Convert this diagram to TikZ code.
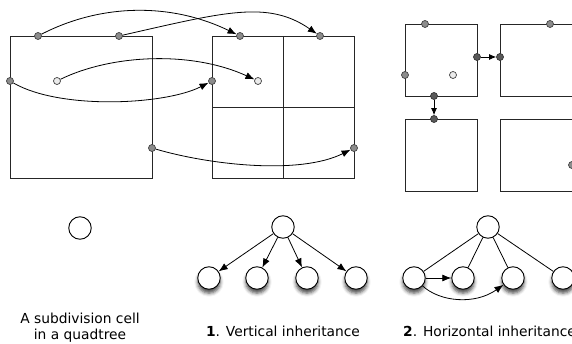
\documentclass[tikz,border=0pt]{standalone}
\usepackage{fontspec}
\setmainfont{DejaVu Sans}
\usetikzlibrary{arrows.meta,shadows.blur}
\begin{document}
\begin{tikzpicture}[x=1pt,y=-1pt,
  cellbox/.style={draw=black!85,line width=0.9pt},
  gdot/.style={circle,draw=black!75,fill=black!45,line width=0.7pt,minimum size=7pt,inner sep=0pt},
  ddot/.style={circle,draw=black!80,fill=black!65,line width=0.7pt,minimum size=7pt,inner sep=0pt},
  ldot/.style={circle,draw=black!75,fill=black!8,line width=0.7pt,minimum size=7pt,inner sep=0pt},
  tnode/.style={circle,draw=black,fill=white,line width=0.9pt,minimum size=22.5pt,inner sep=0pt},
  snode/.style={tnode,blur shadow={shadow xshift=0pt,shadow yshift=-4pt,shadow blur radius=3.5pt,shadow opacity=70}},
  arr/.style={line width=0.8pt,-{Latex[length=9pt,width=7pt]}},
  lnk/.style={line width=0.8pt},
  lbl/.style={font=\fontsize{13.8}{16}\selectfont,align=center,inner sep=0pt}]
\useasboundingbox (0,0) rectangle (572,344);
\clip (0,0) rectangle (572,344);
% left cell
\draw[cellbox] (10,36) rectangle (152,178);
\node[gdot] (a1) at (38,36) {};
\node[gdot] (a2) at (119,36) {};
\node[gdot] (a3) at (10,81) {};
\node[ldot] (a4) at (57,81) {};
\node[gdot] (a5) at (152,148) {};
% quadtree
\draw[cellbox] (212,36) rectangle (354,178);
\draw[cellbox] (283,36) -- (283,178) (212,107) -- (354,107);
\node[gdot] (b1) at (240,36) {};
\node[gdot] (b2) at (320,36) {};
\node[gdot] (b3) at (212,81) {};
\node[ldot] (b4) at (258,81) {};
\node[gdot] (b5) at (354,148) {};
\draw[arr] (a1) .. controls (100,4) and (170,2) .. (b1);
\draw[arr] (a2) .. controls (225,12) and (268,0) .. (b2);
\draw[arr] (a4) .. controls (110,55) and (190,50) .. (b4);
\draw[arr] (a3) .. controls (60,110) and (165,105) .. (b3);
\draw[arr] (a5) .. controls (210,165) and (300,175) .. (b5);
% right panel
\draw[cellbox] (405,24) rectangle (477,96);
\draw[cellbox] (500,24) rectangle (572,96);
\draw[cellbox] (405,119) rectangle (477,191);
\draw[cellbox] (500,119) rectangle (572,191);
\node[gdot] (c1) at (425,24) {};
\node[gdot] (c2) at (405,75) {};
\node[ldot] (c3) at (453,75) {};
\node[ddot] (c4) at (477,57) {};
\node[ddot] (c5) at (434,96) {};
\node[ddot] (d1) at (500,57) {};
\node[gdot] (d2) at (550,24) {};
\node[ddot] (e1) at (434,119) {};
\node[gdot] (f1) at (572,165) {};
\draw[arr,-{Latex[length=7pt,width=6pt]}] (c4) -- (d1);
\draw[arr,-{Latex[length=7pt,width=6pt]}] (c5) -- (e1);
% single node
\node[tnode] (s) at (80,228) {};
\node[lbl] (sl) at (80,328) {A subdivision cell\\in a quadtree};
% tree 1
\node[tnode] (r1) at (283,227) {};
\node[snode] (k1) at (209,278) {};
\node[snode] (k2) at (257,278) {};
\node[snode] (k3) at (307,278) {};
\node[snode] (k4) at (356,278) {};
\foreach \k in {k1,k2,k3,k4} \draw[arr] (r1) -- (\k);
\node[lbl] (l1) at (283,331) {\textbf{1}. Vertical inheritance};
% tree 2
\node[tnode] (r2) at (488,227) {};
\node[snode] (m1) at (414,278) {};
\node[snode] (m2) at (463,278) {};
\node[snode] (m3) at (513,278) {};
\node[snode] (m4) at (563,278) {};
\foreach \k in {m1,m2,m3,m4} \draw[lnk] (r2) -- (\k);
\draw[arr] (m1) -- (m2);
\draw[arr] (m1) .. controls (440,302) and (475,305) .. (m3);
\node[lbl,anchor=west] (l2) at (403,331) {\textbf{2}. Horizontal inheritance};
\end{tikzpicture}
\end{document}
